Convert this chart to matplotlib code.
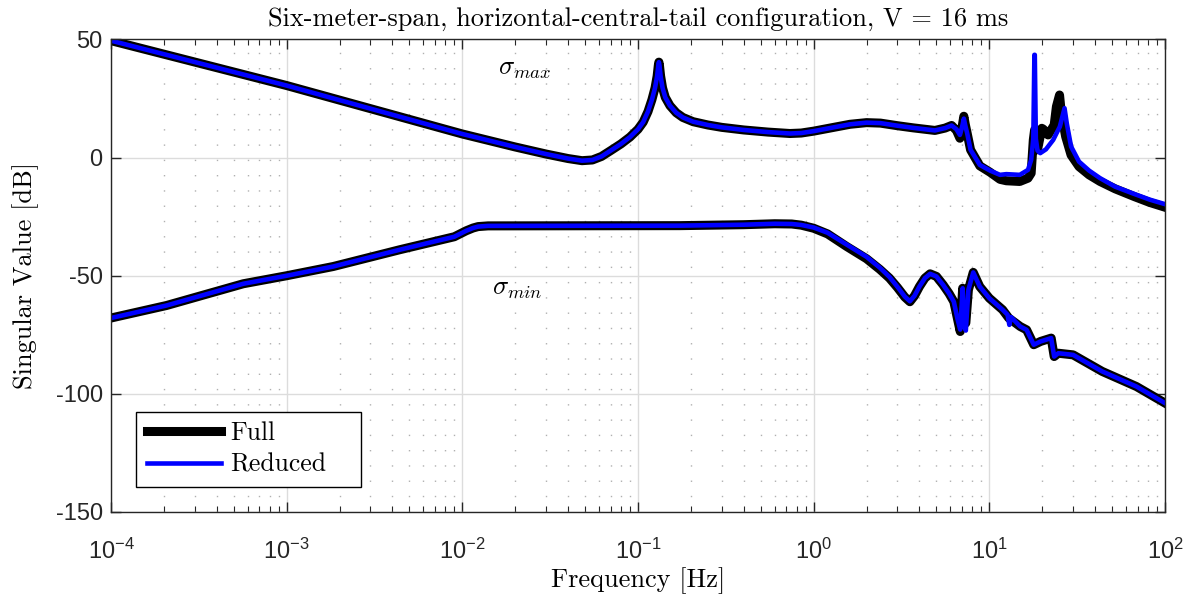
import matplotlib
matplotlib.use('Agg')
import matplotlib.pyplot as plt
import numpy as np
from matplotlib.patches import Rectangle
from matplotlib.ticker import LogLocator, NullFormatter, FixedLocator

plt.rcParams['axes.unicode_minus'] = False
plt.rcParams['mathtext.fontset'] = 'custom'
plt.rcParams['mathtext.rm'] = 'Liberation Sans'
plt.rcParams['mathtext.it'] = 'Liberation Sans:italic'

# sigma_max, part common to both models [Hz], [dB]
f_max_common = [1e-4, 1e-3, 1e-2, 0.02, 0.03, 0.04, 0.048, 0.055, 0.062, 0.07, 0.08,
                0.09, 0.1, 0.107, 0.114, 0.12, 0.125, 0.1285, 0.1305, 0.1315, 0.1325,
                0.1345, 0.138, 0.143, 0.152, 0.165, 0.18, 0.206, 0.25, 0.3, 0.4, 0.55,
                0.733, 0.85, 1.0, 1.3, 1.61, 2.0, 2.4, 3.0, 3.68, 4.3, 4.9, 5.6, 6.1]
s_max_common = [49.5, 30.5, 10.0, 4.5, 1.5, -0.4, -1.3, -1.0, 0.5, 3.0, 5.8,
                8.7, 12.0, 15.0, 19.5, 24.5, 29.5, 34.5, 39.0, 40.4, 39.0,
                34.5, 29.5, 25.5, 22.0, 19.0, 17.0, 15.2, 13.8, 12.8, 11.7, 10.8,
                10.2, 10.4, 11.2, 12.8, 14.1, 14.8, 14.6, 13.5, 12.6, 12.0, 11.5, 12.5, 13.6]

# sigma_max above 6 Hz, full model
f_max_full_hi = [6.5, 6.8, 7.0, 7.16, 7.3, 7.48, 7.82, 8.83, 10.1, 11.5, 12.5, 14.9, 16.6,
                 17.3, 17.8, 18.1, 18.8, 19.9, 20.3, 21.6, 23.4, 24.1, 25.1, 25.7, 27.2,
                 29.2, 32.4, 37.0, 42.7, 52.0, 66.9, 82.0, 100.0]
s_max_full_hi = [11.5, 8.2, 13.0, 17.5, 14.0, 10.3, 3.3, -3.5, -6.2, -9.2, -9.8, -10.1, -8.7,
                 -6.6, 7.5, 11.7, 3.3, 12.4, 12.0, 9.6, 13.8, 21.6, 26.5, 18.8, 8.9,
                 1.1, -3.8, -7.3, -10.1, -13.2, -16.5, -19.0, -21.0]

# sigma_max above 6 Hz, reduced model
f_max_red_hi = [6.5, 6.8, 7.0, 7.16, 7.3, 7.48, 7.82, 8.83, 10.1, 11.5, 12.5, 14.9, 16.6,
                17.3, 17.8, 18.05, 18.15, 18.4, 18.8, 19.5, 21.0, 23.1, 25.2, 26.8, 27.6,
                29.2, 32.4, 37.0, 42.7, 52.0, 66.9, 82.0, 100.0]
s_max_red_hi = [12.0, 9.6, 13.0, 16.5, 13.5, 10.3, 3.3, -3.1, -5.5, -7.3, -7.0, -7.3, -5.2,
                -1.0, 8.0, 43.5, 43.5, 8.0, 3.0, 1.9, 3.5, 7.5, 13.1, 20.9, 14.5,
                4.7, -1.7, -5.5, -8.7, -12.3, -15.4, -17.8, -19.7]

# sigma_min, full model
f_min_full = [1e-4, 2.07e-4, 5.66e-4, 1e-3, 1.84e-3, 4.4e-3, 9.0e-3, 0.0105, 0.0115,
              0.0123, 0.014, 0.173, 0.4, 0.6, 0.75, 0.85, 1.0, 1.2, 1.54, 2.0, 2.38, 2.7,
              3.0, 3.3, 3.53, 3.75, 4.0, 4.3, 4.6, 5.0, 5.45, 5.9, 6.28, 6.6, 6.83, 7.05,
              7.2, 7.35, 7.6, 8.1, 8.82, 10.0, 11.9, 12.9, 15.0, 16.3, 17.9, 19.6, 22.5,
              23.4, 24.7, 30.0, 43.9, 68.8, 100.0]
s_min_full = [-67.9, -62.6, -53.4, -50.0, -46.1, -39.0, -33.5, -31.0, -29.8,
              -29.2, -28.9, -28.8, -28.4, -28.0, -28.1, -28.6, -29.9, -32.3, -37.6, -42.8, -47.3, -51.0,
              -55.0, -59.0, -61.0, -58.5, -54.6, -51.0, -49.2, -50.3, -53.8, -57.5, -61.0, -68.5, -73.6, -55.3,
              -70.5, -70.0, -56.0, -48.6, -54.6, -59.5, -64.4, -67.9, -71.5, -72.9, -79.2, -77.8, -76.4,
              -84.2, -82.8, -83.5, -90.5, -96.9, -103.9]

# sigma_min, reduced model
f_min_red = [1e-4, 2.07e-4, 5.66e-4, 1e-3, 1.84e-3, 4.4e-3, 9.0e-3, 0.0105, 0.0115,
             0.0123, 0.014, 0.173, 0.4, 0.6, 0.75, 0.85, 1.0, 1.2, 1.54, 2.0, 2.38, 2.7,
             3.0, 3.3, 3.53, 3.75, 4.0, 4.3, 4.6, 5.0, 5.45, 5.9, 6.28, 6.6, 6.83, 7.05,
             7.2, 7.35, 7.6, 8.1, 8.82, 10.0, 11.9, 12.7, 13.0, 13.3, 15.0, 16.3, 17.9,
             19.6, 22.5, 23.4, 24.7, 30.0, 43.9, 68.8, 100.0]
s_min_red = [-67.9, -62.6, -53.4, -50.0, -46.1, -39.0, -33.5, -31.0, -29.8,
             -29.2, -28.9, -28.8, -28.4, -28.0, -28.1, -28.5, -29.6, -31.8, -36.8, -42.0, -46.6, -50.5,
             -54.7, -58.8, -60.8, -58.5, -54.6, -51.0, -49.2, -50.3, -53.8, -57.5, -61.0, -68.5, -72.8, -55.3,
             -71.5, -73.2, -56.0, -48.6, -54.6, -59.5, -64.4, -66.5, -70.8, -67.5, -71.5, -72.9, -79.2,
             -77.8, -76.4, -84.2, -82.8, -83.5, -90.5, -96.9, -103.9]

serif = 'cmr10'

fig = plt.figure(figsize=(12.04, 6.0), dpi=100)
ax = fig.add_axes([0.0922, 0.1467, 0.8754, 0.7875])

ax.semilogx(f_max_common + f_max_full_hi, s_max_common + s_max_full_hi,
            color='black', lw=6.5, solid_joinstyle='round', label='Full')
ax.semilogx(f_min_full, s_min_full, color='black', lw=6.5, solid_joinstyle='round')
ax.semilogx(f_max_common + f_max_red_hi, s_max_common + s_max_red_hi,
            color='#0000ff', lw=3.3, solid_joinstyle='round', label='Reduced')
ax.semilogx(f_min_red, s_min_red, color='#0000ff', lw=3.3, solid_joinstyle='round')

ax.set_xlim(1e-4, 1e2)
ax.set_ylim(-150, 50)
ax.yaxis.set_major_locator(FixedLocator([-150, -100, -50, 0, 50]))
ax.xaxis.set_major_locator(LogLocator(base=10, numticks=10))
ax.xaxis.set_minor_locator(LogLocator(base=10, subs=np.arange(2, 10), numticks=20))
ax.xaxis.set_minor_formatter(NullFormatter())

ax.grid(True, which='major', color='#dcdcdc', lw=1.0, ls='-')
ax.grid(True, which='minor', axis='x', color='#b0b0b0', lw=1.0, ls=(0, (1, 10)))
ax.set_axisbelow(True)

ax.tick_params(which='both', direction='in', top=True, right=True, colors='#262626',
               labelcolor='#262626')
ax.tick_params(which='major', length=7.5, width=1, labelsize=17)
ax.tick_params(which='minor', length=4, width=0.8)
ax.tick_params(axis='x', which='major', pad=19)
ax.tick_params(axis='y', which='major', pad=6)
for lbl in ax.get_yticklabels() + ax.get_xticklabels():
    lbl.set_family('Liberation Sans')
for sp in ax.spines.values():
    sp.set_color('#262626')
    sp.set_linewidth(1.0)

ax.set_title('Six-meter-span, horizontal-central-tail configuration, V = 16 ms',
             family=serif, fontsize=19, pad=10)
ax.set_xlabel('Frequency [Hz]', family=serif, fontsize=19, labelpad=3)
ax.set_ylabel('Singular Value [dB]', family=serif, fontsize=19, labelpad=12)

t1 = ax.text(0.0227, 37.9, r'$\sigma_{max}$', fontsize=19, ha='center', va='center')
t2 = ax.text(0.0205, -55.1, r'$\sigma_{min}$', fontsize=19, ha='center', va='center')
for t in (t1, t2):
    t.set_math_fontfamily('cm')

# legend box drawn separately so it keeps the wide right margin
ax.add_patch(Rectangle((0.0237, 0.0529), 0.2135, 0.1587, transform=ax.transAxes,
                       facecolor='white', edgecolor='black', lw=1.0, zorder=4))
leg = ax.legend(loc='lower left', bbox_to_anchor=(0.024, 0.053), borderaxespad=0,
                frameon=False, prop={'family': serif, 'size': 18.5}, handlelength=2.9,
                handletextpad=0.35, borderpad=0.4, labelspacing=0.3)
leg.set_zorder(5)

fig.savefig('out.png', dpi=100)
